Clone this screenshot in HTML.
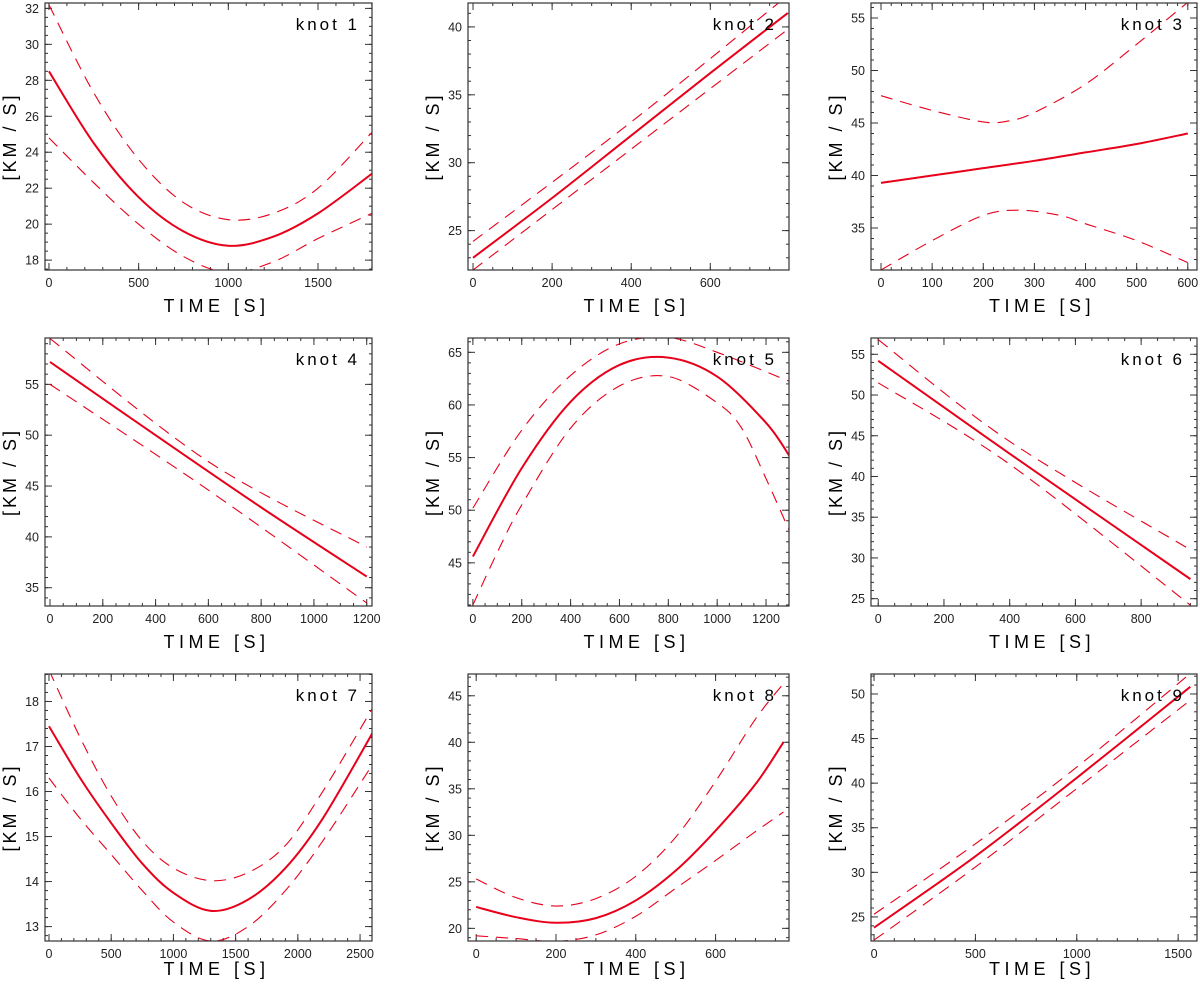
<!DOCTYPE html>
<html><head><meta charset="utf-8">
<style>
html,body{margin:0;padding:0;background:#fff;}
svg{display:block;font-family:"Liberation Sans",sans-serif;}
</style></head>
<body>
<svg id="chart" width="1200" height="985" viewBox="0 0 1200 985"></svg>
<script>
// ---- data (time in s, velocity in km/s) ----
const knotNames = ["knot 1","knot 2","knot 3","knot 4","knot 5","knot 6","knot 7","knot 8","knot 9"];
const fitT = [
 [0,250,500,750,1000,1250,1500,1800],
 [0,200,400,600,795],
 [0,100,200,300,400,500,600],
 [0,400,800,1200],
 [0,200,400,600,800,1000,1200,1300],
 [0,400,950],
 [0,250,500,750,1000,1300,1600,1900,2200,2600],
 [0,100,200,300,400,500,600,700,770],
 [0,500,1000,1560]
];
const fitV = [
 [28.5,24.5,21.5,19.6,18.8,19.3,20.6,22.8],
 [23.0,27.4,32.0,36.6,41.0],
 [39.3,40.0,40.7,41.4,42.2,43.0,44.0],
 [57.2,50.0,42.9,36.1],
 [45.6,54.0,60.3,63.8,64.5,62.7,58.3,55.0],
 [54.2,42.8,27.4],
 [17.45,16.3,15.3,14.4,13.75,13.35,13.6,14.3,15.4,17.3],
 [22.3,21.2,20.6,21.1,23.0,26.2,30.5,35.5,40.0],
 [23.8,31.8,40.6,50.8]
];
const upT = [
 [0,250,500,750,1000,1250,1500,1800],
 [0,400,795],
 [0,100,200,250,300,400,500,600],
 [0,600,1200],
 [0,200,400,600,800,1000,1300],
 [0,400,950],
 [0,250,500,750,1000,1300,1600,1900,2200,2600],
 [0,100,200,300,400,500,600,700,770],
 [0,500,1000,1560]
];
const upV = [
 [32.2,27.3,23.6,21.2,20.25,20.6,22.0,25.1],
 [24.2,33.0,42.3],
 [47.6,46.2,45.1,45.2,46.0,48.7,52.5,56.5],
 [59.5,47.4,39.0],
 [50.2,57.6,62.8,65.8,66.4,65.0,62.2],
 [56.8,44.3,31.0],
 [18.7,17.2,15.9,14.9,14.3,14.02,14.2,14.8,16.0,17.85],
 [25.3,23.3,22.4,23.2,25.6,29.8,35.8,42.5,46.3],
 [25.3,33.2,41.8,52.3]
];
const loT = [
 [0,250,500,750,1000,1250,1500,1800],
 [0,400,795],
 [0,100,200,270,350,400,500,600],
 [0,600,1200],
 [0,100,200,400,600,800,1000,1100,1200,1300],
 [0,400,950],
 [0,250,500,750,1000,1300,1600,1900,2200,2600],
 [0,100,200,300,400,500,600,700,770],
 [0,500,1000,1560]
];
const loV = [
 [24.8,22.3,20.0,18.2,17.3,17.9,19.2,20.6],
 [22.1,31.0,39.8],
 [31.0,33.8,36.2,36.7,36.2,35.4,33.8,31.7],
 [55.0,44.6,33.5],
 [41.0,46.0,50.5,57.8,61.8,62.7,60.2,57.8,53.0,47.8],
 [51.5,41.5,24.2],
 [16.3,15.4,14.6,13.8,13.1,12.68,13.0,13.8,14.9,16.6],
 [19.2,18.9,18.6,19.3,21.3,24.3,27.3,30.4,32.5],
 [22.4,30.6,39.4,49.3]
];
// axis ranges and ticks
const xRanges = [[-22,1801],[-12.7,799],[-19.6,618],[-19,1220],[-20,1294],[-22,970],[-32,2596],[-20.5,784],[-15,1593]];
const yRanges = [[17.45,32.3],[22.1,41.76],[31.0,56.43],[33.2,59.56],[40.9,66.36],[24.1,57.0],[12.68,18.61],[18.64,47.34],[22.3,52.24]];
const xTickLabels = [
 [0,500,1000,1500],[0,200,400,600],[0,100,200,300,400,500,600],
 [0,200,400,600,800,1000,1200],[0,200,400,600,800,1000,1200],[0,200,400,600,800],
 [0,500,1000,1500,2000,2500],[0,200,400,600],[0,500,1000,1500]
];
const yTickLabels = [
 [18,20,22,24,26,28,30,32],[25,30,35,40],[35,40,45,50,55],
 [35,40,45,50,55],[45,50,55,60,65],[25,30,35,40,45,50,55],
 [13,14,15,16,17,18],[20,25,30,35,40,45],[25,30,35,40,45,50]
];
const xMinor = [100,50,20,50,50,50,100,50,100];
const yMinor = [0.5,1,1,1,1,1,0.2,1,1];

// ---- layout (pixels) ----
const colL = [45,468,871], colR = [372,789,1197];
const rowT = [3,338,674], rowB = [270,606,941];
const titleOff = [42,42,34];

const svg = document.getElementById('chart');
const NS = 'http://www.w3.org/2000/svg';
function mk(tag, attrs, parent){ const e=document.createElementNS(NS,tag); for(const k in attrs) e.setAttribute(k,attrs[k]); (parent||svg).appendChild(e); return e; }

function smoothPath(pts){
  let d = 'M'+pts[0][0].toFixed(2)+','+pts[0][1].toFixed(2);
  for(let i=0;i<pts.length-1;i++){
    const p0=pts[Math.max(0,i-1)], p1=pts[i], p2=pts[i+1], p3=pts[Math.min(pts.length-1,i+2)];
    const c1=[p1[0]+(p2[0]-p0[0])/6, p1[1]+(p2[1]-p0[1])/6];
    const c2=[p2[0]-(p3[0]-p1[0])/6, p2[1]-(p3[1]-p1[1])/6];
    d+=' C'+c1[0].toFixed(2)+','+c1[1].toFixed(2)+' '+c2[0].toFixed(2)+','+c2[1].toFixed(2)+' '+p2[0].toFixed(2)+','+p2[1].toFixed(2);
  }
  return d;
}

for(let p=0;p<9;p++){
  const c=p%3, r=Math.floor(p/3);
  const L=colL[c], R=colR[c], T=rowT[r], B=rowB[r];
  const [x0,x1]=xRanges[p], [y0,y1]=yRanges[p];
  const sx = v => L + (v-x0)/(x1-x0)*(R-L);
  const sy = v => B - (v-y0)/(y1-y0)*(B-T);
  const g = mk('g',{});
  
  

  const clipId='clip'+p;
  const cp = mk('clipPath',{id:clipId},g);
  mk('rect',{x:L,y:T,width:R-L,height:B-T},cp);

  const ticks = mk('g',{stroke:'#333','stroke-width':1},g);
  
  
  for(let v=Math.ceil(x0/xMinor[p])*xMinor[p]; v<=x1; v+=xMinor[p]){
    const X=sx(v); mk('line',{x1:X,y1:B,x2:X,y2:B-3},ticks); mk('line',{x1:X,y1:T,x2:X,y2:T+3},ticks);
  }
  for(let v=Math.ceil(y0/yMinor[p])*yMinor[p]; v<=y1; v+=yMinor[p]){
    const Y=sy(v); mk('line',{x1:L,y1:Y,x2:L+3,y2:Y},ticks); mk('line',{x1:R,y1:Y,x2:R-3,y2:Y},ticks);
  }
  xTickLabels[p].forEach(v=>{
    const X=sx(v); mk('line',{x1:X,y1:B,x2:X,y2:B-7},ticks); mk('line',{x1:X,y1:T,x2:X,y2:T+7},ticks);
    const t=mk('text',{x:X,y:B+17,'text-anchor':'middle','font-size':12.5,fill:'#222'},g); t.textContent=v;
    
    
  });
  yTickLabels[p].forEach(v=>{
    const Y=sy(v); mk('line',{x1:L,y1:Y,x2:L+7,y2:Y},ticks); mk('line',{x1:R,y1:Y,x2:R-7,y2:Y},ticks);
    const t=mk('text',{x:L-6,y:Y+4.5,'text-anchor':'end','font-size':12.5,fill:'#222'},g); t.textContent=v;
    
    
  });

  const curves=mk('g',{'clip-path':'url(#'+clipId+')',fill:'none',stroke:'#e8001a'},g);
  const up=mk('path',{d:smoothPath(upT[p].map((t,i)=>[sx(t),sy(upV[p][i])])),'stroke-width':1.1,'stroke-dasharray':'12,8'},curves);
  
  
  const lo=mk('path',{d:smoothPath(loT[p].map((t,i)=>[sx(t),sy(loV[p][i])])),'stroke-width':1.1,'stroke-dasharray':'12,8'},curves);
  
  
  const fit=mk('path',{d:smoothPath(fitT[p].map((t,i)=>[sx(t),sy(fitV[p][i])])),'stroke-width':2},curves);
  
  

  const fr=mk('rect',{x:L,y:T,width:R-L,height:B-T,fill:'none',stroke:'#333','stroke-width':1.2},g);
  
  

  const kn=mk('text',{x:R-12,y:T+27,'text-anchor':'end','font-size':17,'letter-spacing':'3',fill:'#000'},g);
  kn.textContent=knotNames[p];
  
  
  const xt=mk('text',{x:(L+R)/2+8,y:B+titleOff[r],'text-anchor':'middle','font-size':18,'letter-spacing':'4.5',fill:'#000'},g);
  xt.textContent='TIME [S]';
  
  
  const yt=mk('text',{x:0,y:0,'text-anchor':'middle','font-size':18,'letter-spacing':'3',fill:'#000',transform:'translate('+(L-29)+','+((T+B)/2)+') rotate(-90)'},g);
  yt.textContent='[KM / S]';
  
  
}
</script>
</body></html>
